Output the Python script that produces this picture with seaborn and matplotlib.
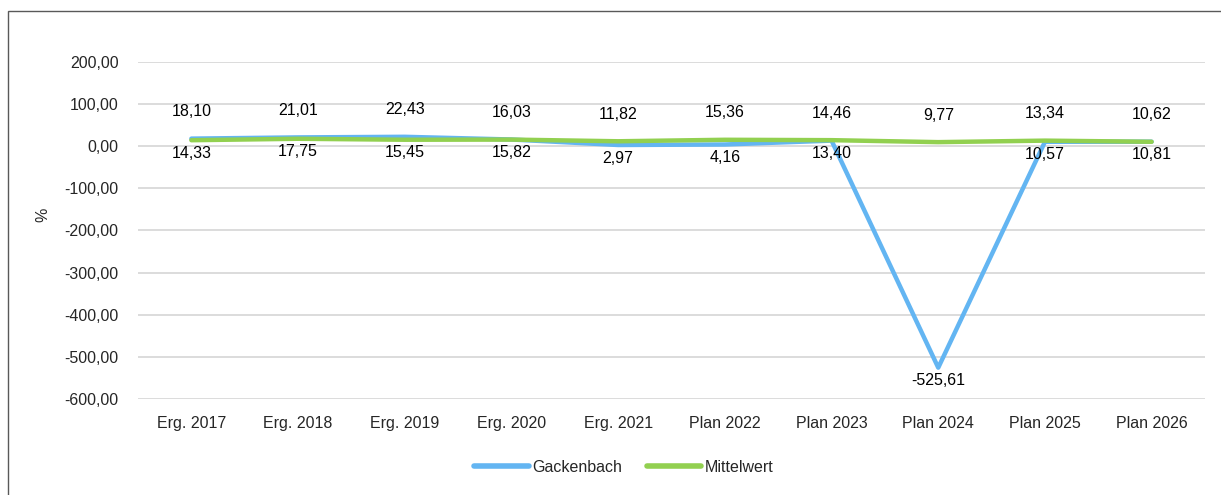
import matplotlib
matplotlib.use("Agg")
import matplotlib.pyplot as plt
import seaborn as sns
import pandas as pd
from matplotlib.patches import Rectangle

categories = ["Erg. 2017", "Erg. 2018", "Erg. 2019", "Erg. 2020", "Erg. 2021",
              "Plan 2022", "Plan 2023", "Plan 2024", "Plan 2025", "Plan 2026"]
gackenbach = [18.10, 21.01, 22.43, 16.03, 2.97, 4.16, 13.40, -525.61, 10.57, 10.81]
mittelwert = [14.33, 17.75, 15.45, 15.82, 11.82, 15.36, 14.46, 9.77, 13.34, 10.62]
yticks = [200, 100, 0, -100, -200, -300, -400, -500, -600]

sns.set_theme(style="white")
plt.rcParams['font.family'] = ['Liberation Sans', 'DejaVu Sans']

df = pd.DataFrame({
    "Kategorie": categories * 2,
    "Wert": gackenbach + mittelwert,
    "Serie": ["Gackenbach"] * len(categories) + ["Mittelwert"] * len(categories),
})

fig = plt.figure(figsize=(12.21, 4.95), dpi=100)
ax = fig.add_axes([138/1221, 1 - 399/495, (1205-138)/1221, (399-62)/495])

palette = {"Gackenbach": "#63b5f2", "Mittelwert": "#92d050"}
sns.lineplot(data=df, x="Kategorie", y="Wert", hue="Serie", palette=palette,
             linewidth=3.2, ax=ax, sort=False, legend=True,
             solid_capstyle="round", solid_joinstyle="round")

ax.set_ylim(-600, 200)
ax.set_xlim(-0.5, len(categories) - 0.5)
ax.set_yticks(yticks)
ax.set_yticklabels([f"{v:.2f}".replace(".", ",") for v in yticks], fontsize=11.5)
ax.set_xticks(range(len(categories)))
ax.set_xticklabels(categories, fontsize=11.5)
ax.tick_params(axis="x", pad=12, length=0)
ax.tick_params(axis="y", pad=14, length=0)
ax.grid(axis="y", color="#d9d9d9", linewidth=1.3)
ax.set_axisbelow(True)
for s in ax.spines.values():
    s.set_visible(False)
ax.set_xlabel("")
ax.set_ylabel("%", fontsize=11.5)
ax.yaxis.set_label_coords((50 - 138) / (1205 - 138), (399 - 215) / 337)

def fmt(v):
    return f"{v:.2f}".replace(".", ",")

for i, (g, m) in enumerate(zip(gackenbach, mittelwert)):
    g_above = i < 4
    up, down = (g, m) if g_above else (m, g)
    ax.annotate(fmt(up), (i, max(g, m)), xytext=(0, 14), textcoords="offset points",
                ha="center", va="bottom", fontsize=11.5, color="#000000")
    low_ref = min(g, m)
    ax.annotate(fmt(down), (i, low_ref), xytext=(0, -4), textcoords="offset points",
                ha="center", va="top", fontsize=11.5, color="#000000")

leg = ax.legend(loc="center", bbox_to_anchor=((624 - 138) / (1205 - 138), -(467 - 399) / 337),
                ncol=2, frameon=False, fontsize=11.5, handlelength=3.4, columnspacing=1.5,
                handletextpad=0.25, title=None)
for line in leg.get_lines():
    line.set_linewidth(4)
    line.set_solid_capstyle("round")

fig.patches.append(Rectangle((8/1221, -0.1), 1.2, 1 - 11/495 + 0.1, transform=fig.transFigure,
                             fill=False, edgecolor="#595959", linewidth=1.0))

fig.savefig("out.png", dpi=100)
